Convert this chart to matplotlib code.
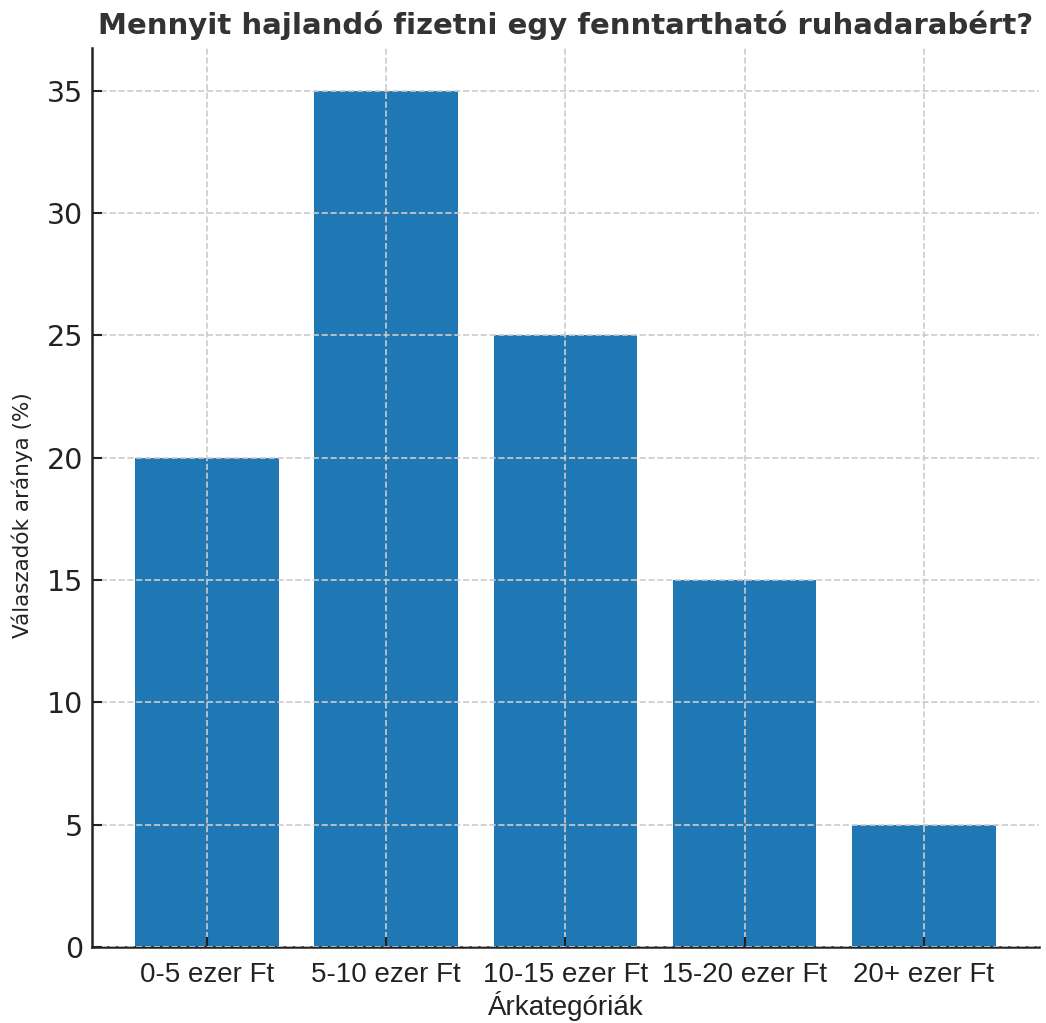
import matplotlib
matplotlib.use("Agg")
import matplotlib.pyplot as plt
from matplotlib import font_manager as fm

categories = ["0-5 ezer Ft", "5-10 ezer Ft", "10-15 ezer Ft", "15-20 ezer Ft", "20+ ezer Ft"]
values = [20, 35, 25, 15, 5]
yticks = [0, 5, 10, 15, 20, 25, 30, 35]

names = {f.name for f in fm.fontManager.ttflist}
narrow = "Liberation Sans Narrow" if "Liberation Sans Narrow" in names else "Liberation Sans"

fig = plt.figure(figsize=(10.46, 10.23), dpi=100)
ax = fig.add_axes([0.088, 0.0743, 0.905, 0.879])
ax.bar(range(len(values)), values, width=0.8, color="#1f77b4")
ax.set_xticks(range(len(categories)))
ax.set_xticklabels(categories, fontsize=20, family=narrow, color="#222222")
ax.set_yticks(yticks)
ax.tick_params(axis="y", labelsize=20.5, labelcolor="#222222", pad=6.5)
ax.tick_params(direction="in", length=7, width=1.5, color="#222222")
ax.tick_params(axis="x", pad=11)
ax.grid(True, linestyle="--", color="#cccccc", linewidth=1.2)
ax.set_axisbelow(False)
for s in ["top", "right"]:
    ax.spines[s].set_visible(False)
for s in ["left", "bottom"]:
    ax.spines[s].set_linewidth(1.8)
    ax.spines[s].set_color("#222222")
ax.set_xlabel("Árkategóriák", fontsize=20, family=narrow, color="#222222", labelpad=2)
ax.set_ylabel("Válaszadók aránya (%)", fontsize=15.5, color="#222222")
ax.yaxis.set_label_coords(-0.062, 0.48)
fig.text(0.541, 0.975, "Mennyit hajlandó fizetni egy fenntartható ruhadarabért?",
         ha="center", va="center", fontsize=21, fontweight="bold", color="#333333")
fig.savefig("out.png", dpi=100)
